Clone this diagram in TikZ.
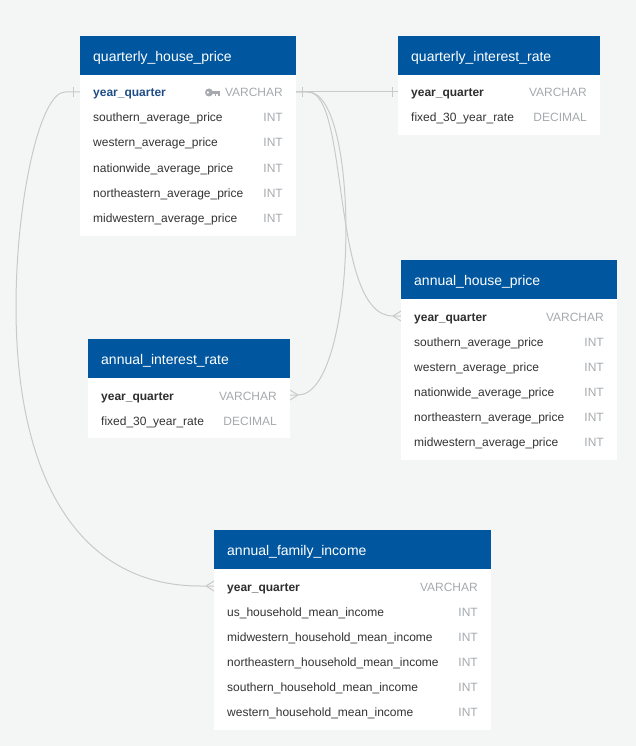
\documentclass[tikz,border=0pt]{standalone}
\usepackage{fontspec}
\setmainfont{Liberation Sans}
\definecolor{bg}{HTML}{F4F6F6}
\definecolor{hdrblue}{HTML}{0057A0}
\definecolor{fldc}{HTML}{333333}
\definecolor{typc}{HTML}{A6AAAE}
\definecolor{pkc}{HTML}{1F4E86}
\definecolor{linec}{HTML}{C9C9C9}
\newcommand\erdtbl[6]{%
  \node[hdrbox, minimum width=#4pt, anchor=north west] (#1h) at (#2,#3) {};
  \node[bodybox, minimum width=#4pt, minimum height=#5pt, anchor=north west] (#1b) at ({#2},{#3+39}) {};
  \node[hdrtext, anchor=west] (#1n) at ({#2+13},{#3+19.5}) {#6};
}
\newcommand\erdrow[7]{%
  \node[fldtext, #7, anchor=west] (#1f) at ({#2+13},#3) {#5};
  \node[typtext, anchor=east] (#1t) at ({#2+#4-13},#3) {#6};
}
\begin{document}
\begin{tikzpicture}[x=1pt,y=-1pt,
  hdrbox/.style={fill=hdrblue, draw=none, minimum height=39pt, inner sep=0pt},
  bodybox/.style={fill=white, draw=none, inner sep=0pt},
  hdrtext/.style={text=white, font=\fontsize{14}{16}\selectfont, inner sep=0pt, text height=10pt, text depth=3pt, yshift=-2.5pt},
  fldtext/.style={text=fldc, font=\fontsize{12}{14}\selectfont, inner sep=0pt, text height=8.5pt, text depth=2.5pt, yshift=-2pt},
  typtext/.style={text=typc, font=\fontsize{12}{14}\selectfont, inner sep=0pt, text height=8.5pt, text depth=2.5pt, yshift=-2pt},
  pk/.style={text=pkc, font=\bfseries\fontsize{12}{14}\selectfont},
  bk/.style={text=fldc!90!black, font=\bfseries\fontsize{12}{14}\selectfont},
  conn/.style={draw=linec, line width=1pt},
]
\useasboundingbox[fill=bg] (0,0) rectangle (636,746);

% connector end points
\coordinate (qhpL) at (80,92);
\coordinate (qhpR) at (296,92);
\coordinate (qirL) at (398,92);
\coordinate (ahpL) at (401,316);
\coordinate (airR) at (290,395);
\coordinate (afiL) at (214,586);

\draw[conn] (qhpL) -- (65,92) .. controls (40,92) and (16,200) .. (16,307)
  .. controls (16,480) and (80,586) .. (200,586) -- (afiL);
\draw[conn] (qhpR) -- (qirL);
\draw[conn] (qhpR) -- (308,92) .. controls (350,92) and (330,316) .. (393,316) -- (ahpL);
\draw[conn] (qhpR) -- (308,92) .. controls (362,92) and (358,395) .. (298,395) -- (airR);

% one-bars
\draw[conn] (73,87) -- (73,97);
\draw[conn] (302,87) -- (302,97);
\draw[conn] (392,87) -- (392,97);
% crow's feet
\draw[conn] (393,316) -- (401,311) (393,316) -- (401,321);
\draw[conn] (298,395) -- (290,390) (298,395) -- (290,400);
\draw[conn] (206,586) -- (214,581) (206,586) -- (214,591);

% tables
\erdtbl{qhp}{80}{36}{216}{161}{quarterly\_house\_price}
\erdrow{qhpa}{80}{92}{216}{year\_quarter}{VARCHAR}{pk}
\erdrow{qhpb}{80}{117}{216}{southern\_average\_price}{INT}{}
\erdrow{qhpc}{80}{142}{216}{western\_average\_price}{INT}{}
\erdrow{qhpd}{80}{167}{216}{nationwide\_average\_price}{INT}{}
\erdrow{qhpe}{80}{192}{216}{northeastern\_average\_price}{INT}{}
\erdrow{qhpg}{80}{217}{216}{midwestern\_average\_price}{INT}{}
% key icon
\fill[typc] (209,92.5) circle (4pt);
\fill[typc] (212,91) rectangle (219.5,93.8);
\fill[typc] (214.5,93) rectangle (216.2,96);
\fill[typc] (217.6,93) rectangle (219.5,96);
\fill[white] (207.8,92.5) circle (1.3pt);

\erdtbl{qir}{398}{36}{202}{60}{quarterly\_interest\_rate}
\erdrow{qira}{398}{92}{202}{year\_quarter}{VARCHAR}{bk}
\erdrow{qirb}{398}{117}{202}{fixed\_30\_year\_rate}{DECIMAL}{}

\erdtbl{ahp}{401}{260}{216}{161}{annual\_house\_price}
\erdrow{ahpa}{401}{316}{216}{year\_quarter}{VARCHAR}{bk}
\erdrow{ahpb}{401}{341}{216}{southern\_average\_price}{INT}{}
\erdrow{ahpc}{401}{366}{216}{western\_average\_price}{INT}{}
\erdrow{ahpd}{401}{391}{216}{nationwide\_average\_price}{INT}{}
\erdrow{ahpe}{401}{416}{216}{northeastern\_average\_price}{INT}{}
\erdrow{ahpg}{401}{441}{216}{midwestern\_average\_price}{INT}{}

\erdtbl{air}{88}{339}{202}{60}{annual\_interest\_rate}
\erdrow{aira}{88}{395}{202}{year\_quarter}{VARCHAR}{bk}
\erdrow{airb}{88}{420}{202}{fixed\_30\_year\_rate}{DECIMAL}{}

\erdtbl{afi}{214}{530}{277}{161}{annual\_family\_income}
\erdrow{afia}{214}{586}{277}{year\_quarter}{VARCHAR}{bk}
\erdrow{afib}{214}{611}{277}{us\_household\_mean\_income}{INT}{}
\erdrow{afic}{214}{636}{277}{midwestern\_household\_mean\_income}{INT}{}
\erdrow{afid}{214}{661}{277}{northeastern\_household\_mean\_income}{INT}{}
\erdrow{afie}{214}{686}{277}{southern\_household\_mean\_income}{INT}{}
\erdrow{afig}{214}{711}{277}{western\_household\_mean\_income}{INT}{}
\end{tikzpicture}
\end{document}
